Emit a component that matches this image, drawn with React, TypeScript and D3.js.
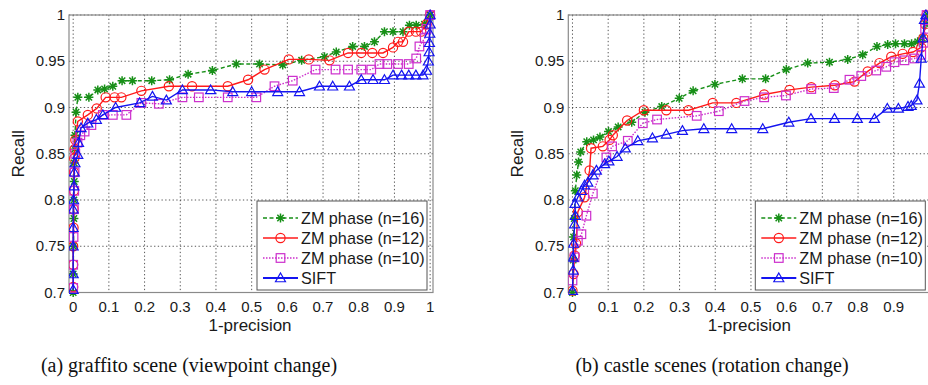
import React from 'react';
import * as d3 from 'd3';

type P = [number, number];

const xTicks = [0, 0.1, 0.2, 0.3, 0.4, 0.5, 0.6, 0.7, 0.8, 0.9, 1];
const xTickLabels = ['0', '0.1', '0.2', '0.3', '0.4', '0.5', '0.6', '0.7', '0.8', '0.9', '1'];
const yTicks = [0.7, 0.75, 0.8, 0.85, 0.9, 0.95, 1];
const yTickLabels = ['0.7', '0.75', '0.8', '0.85', '0.9', '0.95', '1'];
const seriesNames = ['ZM phase (n=16)', 'ZM phase (n=12)', 'ZM phase (n=10)', 'SIFT'];
const captions = ['(a) graffito scene (viewpoint change)', '(b) castle scenes (rotation change)'];
const xLabel = '1-precision';
const yLabel = 'Recall';

// (a) graffito scene
const graffitoN16: P[] = [
  [0, 0.70], [0, 0.72], [0.001, 0.75], [0.002, 0.78], [0.002, 0.80], [0.003, 0.82], [0.003, 0.84],
  [0.004, 0.855], [0.005, 0.87], [0.008, 0.895], [0.013, 0.911], [0.044, 0.911], [0.069, 0.919],
  [0.088, 0.92], [0.111, 0.923], [0.137, 0.929], [0.166, 0.929], [0.22, 0.929], [0.27, 0.93],
  [0.322, 0.936], [0.39, 0.94], [0.457, 0.947], [0.522, 0.947], [0.587, 0.946], [0.64, 0.951],
  [0.704, 0.955], [0.737, 0.96], [0.783, 0.966], [0.816, 0.966], [0.844, 0.971], [0.872, 0.982],
  [0.896, 0.982], [0.924, 0.982], [0.942, 0.989], [0.961, 0.989], [0.984, 0.99], [0.995, 0.995], [1.0, 1.0],
];
const graffitoN12: P[] = [
  [0, 0.706], [0, 0.73], [0, 0.75], [0.001, 0.77], [0.001, 0.79], [0.002, 0.81], [0.002, 0.83],
  [0.003, 0.845], [0.004, 0.855], [0.006, 0.865], [0.013, 0.885], [0.041, 0.892], [0.066, 0.899],
  [0.091, 0.911], [0.116, 0.911], [0.135, 0.911], [0.191, 0.918], [0.268, 0.923], [0.333, 0.923],
  [0.433, 0.923], [0.49, 0.93], [0.536, 0.941], [0.604, 0.952], [0.66, 0.952], [0.718, 0.951],
  [0.77, 0.959], [0.807, 0.959], [0.838, 0.959], [0.868, 0.959], [0.896, 0.965], [0.91, 0.971],
  [0.924, 0.971], [0.94, 0.982], [0.96, 0.982], [0.975, 0.982], [0.99, 0.99], [1.0, 1.0],
];
const graffitoN10: P[] = [
  [0, 0.705], [0, 0.73], [0.001, 0.76], [0.002, 0.79], [0.003, 0.81], [0.004, 0.83], [0.006, 0.85],
  [0.012, 0.862], [0.02, 0.87], [0.032, 0.874], [0.051, 0.881], [0.083, 0.892], [0.111, 0.892],
  [0.149, 0.892], [0.191, 0.905], [0.24, 0.904], [0.306, 0.911], [0.352, 0.911], [0.433, 0.911],
  [0.513, 0.911], [0.564, 0.923], [0.615, 0.929], [0.679, 0.941], [0.735, 0.941], [0.77, 0.941],
  [0.807, 0.941], [0.835, 0.941], [0.858, 0.947], [0.88, 0.947], [0.91, 0.947], [0.94, 0.947],
  [0.961, 0.953], [0.97, 0.966], [0.985, 0.975], [0.99, 0.985], [1.0, 1.0],
];
const graffitoSift: P[] = [
  [0, 0.703], [0, 0.72], [0, 0.75], [0, 0.77], [0, 0.79], [0.001, 0.80], [0.002, 0.815], [0.003, 0.83],
  [0.005, 0.84], [0.013, 0.849], [0.015, 0.862], [0.022, 0.878], [0.041, 0.883], [0.065, 0.887],
  [0.083, 0.892], [0.119, 0.9], [0.186, 0.905], [0.222, 0.912], [0.261, 0.908], [0.306, 0.919],
  [0.385, 0.919], [0.447, 0.917], [0.5, 0.917], [0.573, 0.917], [0.634, 0.917], [0.69, 0.923],
  [0.727, 0.923], [0.774, 0.923], [0.807, 0.93], [0.84, 0.93], [0.872, 0.93], [0.896, 0.935],
  [0.92, 0.935], [0.94, 0.935], [0.96, 0.935], [0.98, 0.935], [0.99, 0.94], [0.995, 0.95],
  [0.997, 0.96], [0.998, 0.97], [0.999, 0.98], [1.0, 0.99], [1.0, 1.0],
];

// (b) castle scenes
const castleN16: P[] = [
  [0, 0.70], [0.002, 0.735], [0.003, 0.76], [0.005, 0.78], [0.008, 0.81], [0.012, 0.827], [0.017, 0.841],
  [0.023, 0.852], [0.04, 0.863], [0.059, 0.865], [0.077, 0.868], [0.101, 0.874], [0.128, 0.879],
  [0.166, 0.884], [0.203, 0.895], [0.25, 0.901], [0.299, 0.91], [0.338, 0.918], [0.399, 0.925],
  [0.476, 0.931], [0.541, 0.931], [0.599, 0.941], [0.659, 0.948], [0.72, 0.949], [0.771, 0.952],
  [0.813, 0.957], [0.853, 0.966], [0.883, 0.968], [0.905, 0.969], [0.93, 0.969], [0.95, 0.969],
  [0.967, 0.971], [0.98, 0.975], [0.99, 0.99], [0.995, 1.0],
];
const castleN12: P[] = [
  [0, 0.702], [0.003, 0.72], [0.006, 0.74], [0.01, 0.753], [0.015, 0.787], [0.034, 0.803], [0.048, 0.832],
  [0.052, 0.856], [0.085, 0.858], [0.104, 0.865], [0.113, 0.87], [0.153, 0.886], [0.2, 0.897],
  [0.263, 0.897], [0.325, 0.897], [0.393, 0.905], [0.459, 0.905], [0.537, 0.914], [0.608, 0.919],
  [0.669, 0.922], [0.735, 0.924], [0.79, 0.928], [0.827, 0.939], [0.86, 0.948], [0.893, 0.955],
  [0.925, 0.958], [0.954, 0.96], [0.977, 0.965], [0.983, 0.975], [0.988, 0.99], [0.992, 1.0],
];
const castleN10: P[] = [
  [0, 0.713], [0.006, 0.738], [0.015, 0.756], [0.025, 0.763], [0.039, 0.783], [0.057, 0.807],
  [0.095, 0.846], [0.111, 0.858], [0.155, 0.864], [0.197, 0.883], [0.237, 0.887], [0.348, 0.891],
  [0.41, 0.896], [0.482, 0.907], [0.537, 0.911], [0.598, 0.913], [0.669, 0.92], [0.732, 0.921],
  [0.776, 0.93], [0.809, 0.934], [0.851, 0.94], [0.879, 0.944], [0.902, 0.949], [0.93, 0.951],
  [0.958, 0.953], [0.977, 0.957], [0.984, 0.97], [0.988, 0.985], [0.992, 1.0],
];
const castleSift: P[] = [
  [0, 0.702], [0.002, 0.724], [0.002, 0.738], [0.003, 0.753], [0.006, 0.774], [0.008, 0.783],
  [0.007, 0.796], [0.015, 0.803], [0.025, 0.81], [0.034, 0.816], [0.043, 0.819], [0.057, 0.827],
  [0.067, 0.832], [0.09, 0.839], [0.102, 0.842], [0.125, 0.847], [0.148, 0.856], [0.183, 0.864],
  [0.224, 0.867], [0.263, 0.871], [0.308, 0.875], [0.368, 0.877], [0.446, 0.877], [0.533, 0.877],
  [0.606, 0.884], [0.668, 0.888], [0.734, 0.888], [0.798, 0.888], [0.846, 0.888], [0.882, 0.899],
  [0.913, 0.899], [0.94, 0.901], [0.949, 0.902], [0.965, 0.908], [0.972, 0.926], [0.977, 0.953],
  [0.982, 0.975], [0.986, 0.995], [0.99, 1.0],
];

const seriesStyles = [
  { color: '#178f17', dash: '4,2.5', marker: 'star' },
  { color: '#ff1a1a', dash: '', marker: 'circle' },
  { color: '#cc2ecc', dash: '1.5,1.5', marker: 'square' },
  { color: '#1414f0', dash: '', marker: 'triangle' },
];

const panels = [
  { left: 69, data: [graffitoN16, graffitoN12, graffitoN10, graffitoSift], legendDx: 188, caption: captions[0], capX: 189 },
  { left: 568.3, data: [castleN16, castleN12, castleN10, castleSift], legendDx: 187, caption: captions[1], capX: 712 },
];

const W = 928;
const H = 385;
const TOP = 15;
const PH = 277.5;
const PW = 364;
const X_DOMAIN: [number, number] = [-0.0117, 1.008];
const FONT = 'Liberation Sans, Arial, sans-serif';

function Marker({ kind, x, y, color }: { kind: string; x: number; y: number; color: string }) {
  const common = { fill: 'none', stroke: color, strokeWidth: 1.2 };
  if (kind === 'circle') return <circle cx={x} cy={y} r={4.6} {...common} />;
  if (kind === 'square') return <rect x={x - 4.3} y={y - 4.3} width={8.6} height={8.6} {...common} />;
  if (kind === 'triangle') {
    const r = 5;
    return <path d={`M${x},${y - r}L${x + r},${y + r * 0.75}L${x - r},${y + r * 0.75}Z`} {...common} />;
  }
  const r = 4.5;
  const d = r * 0.7071;
  return (
    <path
      d={`M${x - r},${y}L${x + r},${y}M${x},${y - r}L${x},${y + r}M${x - d},${y - d}L${x + d},${y + d}M${x - d},${y + d}L${x + d},${y - d}`}
      fill="none"
      stroke={color}
      strokeWidth={1.5}
    />
  );
}

function Panel({ p, idx }: { p: typeof panels[number]; idx: number }) {
  const x = d3.scaleLinear().domain(X_DOMAIN).range([p.left, p.left + PW]);
  const y = d3.scaleLinear().domain([0.7, 1]).range([TOP + PH, TOP]);
  const line = d3.line<P>().x((d) => x(d[0])).y((d) => y(d[1]));
  const clipId = `clip${idx}`;
  const lx = p.left + p.legendDx;
  const ly = 201;
  return (
    <g>
      <defs>
        <clipPath id={clipId}>
          <rect x={p.left} y={TOP - 6} width={PW + 6} height={PH + 12} />
        </clipPath>
      </defs>
      <rect x={p.left} y={TOP} width={PW} height={PH} fill="#fff" />
      {xTicks.map((t) => (
        <line key={'gx' + t} x1={x(t)} x2={x(t)} y1={TOP} y2={TOP + PH} stroke="#444" strokeWidth={0.9} strokeDasharray="1.3,2.4" />
      ))}
      {yTicks.map((t) => (
        <line key={'gy' + t} x1={p.left} x2={p.left + PW} y1={y(t)} y2={y(t)} stroke="#444" strokeWidth={0.9} strokeDasharray="1.3,2.4" />
      ))}
      <rect x={p.left} y={TOP} width={PW} height={PH} fill="none" stroke="#8a8a8a" strokeWidth={1.2} />
      {xTicks.map((t, i) =>
        x(t) + 6 < W ? (
          <text key={'tx' + t} x={x(t)} y={TOP + PH + 19} textAnchor="middle" fontSize={15} fill="#1a1a1a" fontFamily={FONT}>
            {xTickLabels[i]}
          </text>
        ) : null
      )}
      {yTicks.map((t, i) => (
        <text key={'ty' + t} x={p.left - 4} y={y(t) + 5} textAnchor="end" fontSize={15} fill="#1a1a1a" fontFamily={FONT}>
          {yTickLabels[i]}
        </text>
      ))}
      <text x={p.left + PW / 2 - 1} y={331} textAnchor="middle" fontSize={17} fill="#1a1a1a" fontFamily={FONT}>
        {xLabel}
      </text>
      <text transform={`translate(${p.left - 45},${TOP + PH / 2}) rotate(-90)`} textAnchor="middle" fontSize={17} fill="#1a1a1a" fontFamily={FONT}>
        {yLabel}
      </text>
      <g clipPath={`url(#${clipId})`}>
        {p.data.map((s, si) => {
          const st = seriesStyles[si];
          return (
            <g key={'s' + si}>
              <path d={line(s) || ''} fill="none" stroke={st.color} strokeWidth={1.4} strokeDasharray={st.dash || undefined} />
              {s.map((d, k) => (
                <Marker key={k} kind={st.marker} x={x(d[0])} y={y(d[1])} color={st.color} />
              ))}
            </g>
          );
        })}
      </g>
      <rect x={lx} y={ly} width={170} height={89} fill="#fff" stroke="#555" strokeWidth={1} />
      {seriesNames.map((n, i) => {
        const st = seriesStyles[i];
        const cy = ly + 17 + i * 20;
        return (
          <g key={'lg' + i}>
            <line x1={lx + 6} x2={lx + 41} y1={cy} y2={cy} stroke={st.color} strokeWidth={i === 3 ? 1.9 : 1.4} strokeDasharray={st.dash || undefined} />
            <Marker kind={st.marker} x={lx + 23.5} y={cy} color={st.color} />
            <text x={lx + 44} y={cy + 5.5} fontSize={16.2} fill="#1a1a1a" fontFamily={FONT}>
              {n}
            </text>
          </g>
        );
      })}
      <text x={p.capX} y={372} textAnchor="middle" fontSize={20} fill="#111" fontFamily="Liberation Serif, Times New Roman, serif">
        {p.caption}
      </text>
    </g>
  );
}

export default function App() {
  return (
    <svg width={W} height={H} style={{ position: 'absolute', left: 0, top: 0, background: '#fff' }}>
      <rect width={W} height={H} fill="#fff" />
      {panels.map((p, i) => (
        <Panel key={i} p={p} idx={i} />
      ))}
    </svg>
  );
}
